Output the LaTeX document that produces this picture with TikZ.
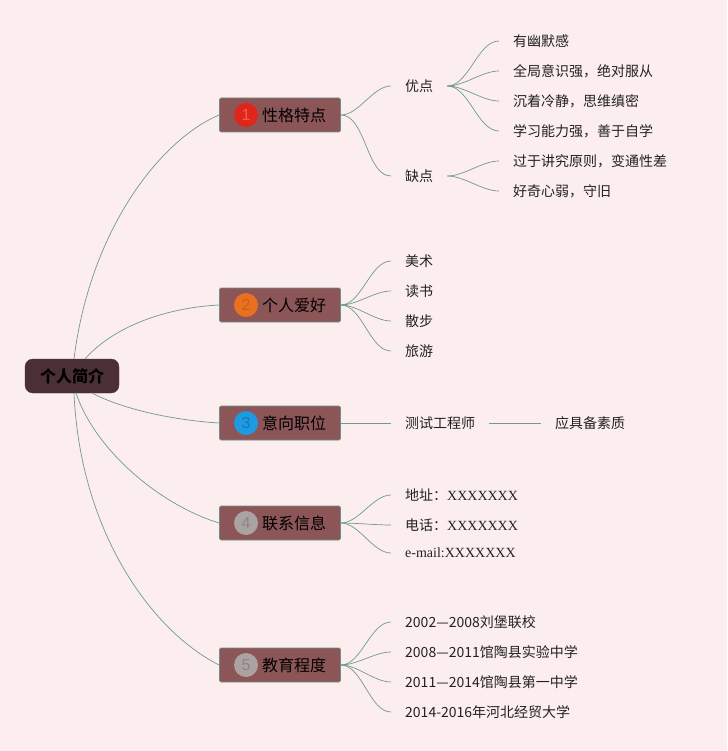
\documentclass[tikz,border=0pt]{standalone}
\usepackage{fontspec}
\setmainfont{Liberation Serif}
\newfontfamily\cjk{Noto Sans CJK SC}
\newfontfamily\numfont{Liberation Sans}
\definecolor{bg}{HTML}{FCEEEE}
\definecolor{ln}{HTML}{6F9B8C}
\definecolor{mainfill}{HTML}{8C5558}
\definecolor{mainedge}{HTML}{6E8E86}
\definecolor{rootfill}{HTML}{4A3034}
\definecolor{txt}{HTML}{222222}
\definecolor{c1}{HTML}{E0261A}\definecolor{d1}{HTML}{F25C50}
\definecolor{c2}{HTML}{E8701E}\definecolor{d2}{HTML}{D05E16}
\definecolor{c3}{HTML}{1E9BE0}\definecolor{d3}{HTML}{1478C0}
\definecolor{c4}{HTML}{ABA2A2}\definecolor{d4}{HTML}{8E8686}
\definecolor{c5}{HTML}{ABA2A2}\definecolor{d5}{HTML}{8E8686}
\begin{document}
\begin{tikzpicture}[x=1pt,y=-1pt,
  rootbox/.style={draw=rootfill, fill=rootfill, rounded corners=8pt, minimum width=94pt, minimum height=34pt, font=\cjk\bfseries\fontsize{16}{18}\selectfont, text=black, inner sep=0},
  mainbox/.style={draw=mainedge, line width=0.8pt, fill=mainfill, rounded corners=1.5pt, minimum width=121pt, minimum height=34pt, inner sep=0},
  numdot/.style={circle, minimum size=24pt, inner sep=0, font=\numfont\fontsize{16}{18}\selectfont},
  maintext/.style={anchor=west, inner sep=0, font=\cjk\fontsize{16}{18}\selectfont, text=black},
  leaf/.style={anchor=west, inner xsep=14pt, inner ysep=2pt, font=\cjk\fontsize{14}{16}\selectfont, text=txt},
  leafs/.style={anchor=west, inner xsep=14pt, inner ysep=2pt, font=\fontsize{14}{16}\selectfont, text=txt},
  conn/.style={draw=ln, line width=0.7pt},
  branch/.style={conn, out=0, in=180, looseness=0.8}
]
\path[fill=bg] (0,0) rectangle (727,751);

% root
\node[rootbox] (root) at (72,376) {个人简介};
\coordinate (r1) at (74,359);
\coordinate (r2) at (85,359);
\coordinate (r3) at (92,393);
\coordinate (r4) at (76,393);
\coordinate (r5) at (74,393);

% main nodes
\foreach \i/\y/\t in {1/115/性格特点,2/305/个人爱好,3/423/意向职位,4/523/联系信息,5/665/教育程度}{
  \node[mainbox] (m\i) at (280,\y) {};
  \node[numdot, fill=c\i, text=d\i] (n\i) at (246,\y) {\i};
  \node[maintext] (t\i) at (262,\y) {\t};
}

% root connectors
\draw[conn] (r1) .. controls (90,230) and (160,140) .. (m1.west);
\draw[conn] (r2) .. controls (110,330) and (160,308) .. (m2.west);
\draw[conn] (r3) .. controls (120,408) and (170,420) .. (m3.west);
\draw[conn] (r4) .. controls (95,450) and (160,505) .. (m4.west);
\draw[conn] (r5) .. controls (80,530) and (150,630) .. (m5.west);

% branch 1
\node[leaf] (a1) at (391,86) {优点};
\node[leaf] (a2) at (391,176) {缺点};
\node[leaf] (g1) at (499,41) {有幽默感};
\node[leaf] (g2) at (499,71) {全局意识强，绝对服从};
\node[leaf] (g3) at (499,101) {沉着冷静，思维缜密};
\node[leaf] (g4) at (499,131) {学习能力强，善于自学};
\node[leaf] (g5) at (499,161) {过于讲究原则，变通性差};
\node[leaf] (g6) at (499,191) {好奇心弱，守旧};
\foreach \c in {a1,a2} \draw[branch] (m1.east) to (\c.west);
\foreach \c in {g1,g2,g3,g4} \draw[branch] (a1.east) to (\c.west);
\foreach \c in {g5,g6} \draw[branch] (a2.east) to (\c.west);

% branch 2
\node[leaf] (b1) at (391,261) {美术};
\node[leaf] (b2) at (391,291) {读书};
\node[leaf] (b3) at (391,321) {散步};
\node[leaf] (b4) at (391,351) {旅游};
\foreach \c in {b1,b2,b3,b4} \draw[branch] (m2.east) to (\c.west);

% branch 3
\node[leaf] (p1) at (391,423) {测试工程师};
\node[leaf] (p2) at (541,423) {应具备素质};
\draw[conn] (m3.east) -- (p1.west);
\draw[conn] (p1.east) -- (p2.west);

% branch 4
\node[leafs] (k1) at (391,495) {{\cjk 地址：}XXXXXXX};
\node[leafs] (k2) at (391,525) {{\cjk 电话：}XXXXXXX};
\node[leafs] (k3) at (391,553) {e-mail:XXXXXXX};
\foreach \c in {k1,k2,k3} \draw[branch] (m4.east) to (\c.west);

% branch 5
\node[leaf] (e1) at (391,622) {2002—2008刘堡联校};
\node[leaf] (e2) at (391,652) {2008—2011馆陶县实验中学};
\node[leaf] (e3) at (391,682) {2011—2014馆陶县第一中学};
\node[leaf] (e4) at (391,712) {2014-2016年河北经贸大学};
\foreach \c in {e1,e2,e3,e4} \draw[branch] (m5.east) to (\c.west);
\end{tikzpicture}
\end{document}
